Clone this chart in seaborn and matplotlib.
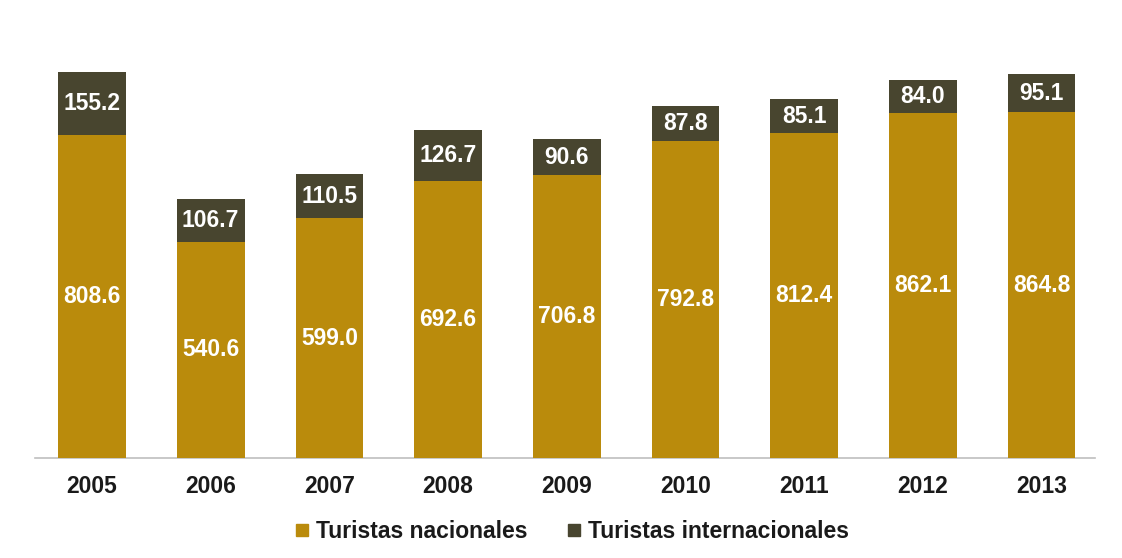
import matplotlib
matplotlib.use("Agg")
import matplotlib.pyplot as plt
from matplotlib.lines import Line2D
import seaborn as sns
import pandas as pd

years = ["2005", "2006", "2007", "2008", "2009", "2010", "2011", "2012", "2013"]
nacionales = [808.6, 540.6, 599.0, 692.6, 706.8, 792.8, 812.4, 862.1, 864.8]
internacionales = [155.2, 106.7, 110.5, 126.7, 90.6, 87.8, 85.1, 84.0, 95.1]
series_names = ["Turistas nacionales", "Turistas internacionales"]

gold = "#BA8B0C"
dark = "#48452F"

sns.set_theme(style="white")
plt.rcParams["font.family"] = ["Liberation Sans", "DejaVu Sans"]

df = pd.DataFrame({"year": years, "nac": nacionales, "intl": internacionales})
df["total"] = df["nac"] + df["intl"]

fig = plt.figure(figsize=(11.22, 5.58), dpi=100)
ax = fig.add_axes([35 / 1122, 1 - 458 / 558, (1095 - 35) / 1122, 400 / 558])

sns.barplot(data=df, x="year", y="total", color=dark, saturation=1, width=0.57,
            linewidth=0, edgecolor="none", ax=ax, zorder=2)
sns.barplot(data=df, x="year", y="nac", color=gold, saturation=1, width=0.57,
            linewidth=0, edgecolor="none", ax=ax, zorder=3)

fs = 16.5
for i, (n, t) in enumerate(zip(nacionales, internacionales)):
    ax.text(i, n / 2, f"{n:.1f}", ha="center", va="center", color="white",
            fontsize=fs, fontweight="bold", zorder=5)
    ax.text(i, n + t / 2, f"{t:.1f}", ha="center", va="center", color="white",
            fontsize=fs, fontweight="bold", zorder=5)

ax.set_xlim(-0.48, 8.45)
ax.set_ylim(0, 1000)
ax.set_xlabel("")
ax.set_ylabel("")
ax.set_yticks([])
for s in ["top", "right", "left"]:
    ax.spines[s].set_visible(False)
ax.spines["bottom"].set_color("#BFBFBF")
ax.spines["bottom"].set_linewidth(1.2)
ax.tick_params(axis="x", length=0, pad=12, labelsize=fs)
for lbl in ax.get_xticklabels():
    lbl.set_fontweight("bold")
    lbl.set_color("#1A1A1A")

handles = [Line2D([], [], marker="s", linestyle="", markersize=8, color=gold),
           Line2D([], [], marker="s", linestyle="", markersize=8, color=dark)]
leg = fig.legend(handles, series_names, loc="center", bbox_to_anchor=(0.51, 1 - 532 / 558),
                 ncol=2, frameon=False, handlelength=0.6, handletextpad=0.3,
                 columnspacing=1.75, prop={"size": fs, "weight": "bold"})
for t in leg.get_texts():
    t.set_color("#1A1A1A")

fig.savefig("out.png", dpi=100, facecolor="white")
